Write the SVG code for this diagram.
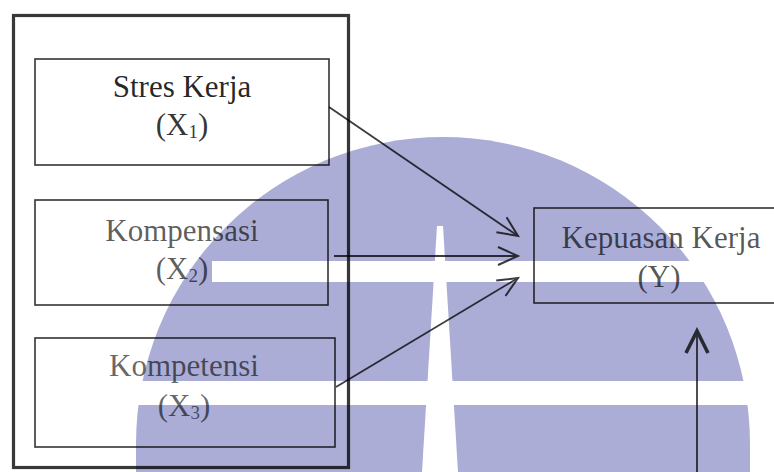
<svg xmlns="http://www.w3.org/2000/svg" width="774" height="472" viewBox="0 0 774 472">
  <style>
    .lbl { font-family: "Liberation Serif", "Times New Roman", serif; font-size: 31px; text-anchor: middle; fill: #000; }
    .sub { font-size: 19px; }
    .box { fill: none; stroke: #000; stroke-opacity: 0.8; stroke-width: 1.6; }
    .frame { fill: none; stroke: #000; stroke-opacity: 0.78; stroke-width: 3.2; }
    .edge { fill: none; stroke: #000; stroke-width: 1.8; }
  </style>
  <defs>
    <marker id="head" viewBox="-23 -12 26 24" refX="0" refY="0" markerWidth="26" markerHeight="24" markerUnits="userSpaceOnUse" orient="auto">
      <path d="M-20,-9 L0,0 L-20,9" fill="none" stroke="#000" stroke-width="2"/>
    </marker>
    <marker id="headBold" viewBox="-26 -14 30 28" refX="0" refY="0" markerWidth="30" markerHeight="28" markerUnits="userSpaceOnUse" orient="auto">
      <path d="M-22,-11 L0,0 L-22,11" fill="none" stroke="#000" stroke-width="3.6"/>
    </marker>
  </defs>

  <rect width="774" height="472" fill="#fff"/>

  <!-- background emblem: dome with white bands and a spike -->
  <g id="watermark">
    <path d="M136,472 L136,444 A307,307 0 0 1 750,444 L750,472 Z" fill="#abadd6"/>
    <rect x="212" y="261" width="562" height="21" fill="#fff"/>
    <rect x="120" y="381" width="654" height="24" fill="#fff"/>
    <polygon points="437,226 443,226 458,472 422,472" fill="#fff"/>
  </g>

  <!-- grouping frame around the independent variables -->
  <rect id="frame" class="frame" x="13.5" y="15.5" width="335" height="452"/>

  <g id="x1">
    <rect class="box" x="35" y="59" width="294" height="106"/>
    <text class="lbl" x="182" y="97" fill-opacity="0.86">Stres Kerja</text>
    <text class="lbl" x="182" y="135" fill-opacity="0.8">(X<tspan class="sub" dy="3">1</tspan><tspan dy="-3">)</tspan></text>
  </g>

  <g id="x2">
    <rect class="box" x="35" y="200" width="293" height="105"/>
    <text class="lbl" x="182" y="241" fill-opacity="0.64">Kompensasi</text>
    <text class="lbl" x="182" y="279" fill-opacity="0.64">(X<tspan class="sub" dy="3">2</tspan><tspan dy="-3">)</tspan></text>
  </g>

  <g id="x3">
    <rect class="box" x="35" y="338" width="300" height="109"/>
    <text class="lbl" x="184" y="376" fill-opacity="0.6">Kompetensi</text>
    <text class="lbl" x="184" y="416" fill-opacity="0.6">(X<tspan class="sub" dy="3">3</tspan><tspan dy="-3">)</tspan></text>
  </g>

  <g id="y">
    <rect class="box" x="534" y="208" width="260" height="95"/>
    <text class="lbl" x="661" y="248" fill-opacity="0.66">Kepuasan Kerja</text>
    <text class="lbl" x="659" y="287" fill-opacity="0.66">(Y)</text>
  </g>

  <g id="connectors" opacity="0.76">
    <line class="edge" x1="329" y1="107" x2="518" y2="236" marker-end="url(#head)"/>
    <line class="edge" x1="334" y1="256" x2="518" y2="256" marker-end="url(#head)"/>
    <line class="edge" x1="336" y1="387" x2="518" y2="278" marker-end="url(#head)"/>
    <line class="edge" x1="697" y1="472" x2="697" y2="331" stroke-width="3" marker-end="url(#headBold)"/>
  </g>
</svg>
